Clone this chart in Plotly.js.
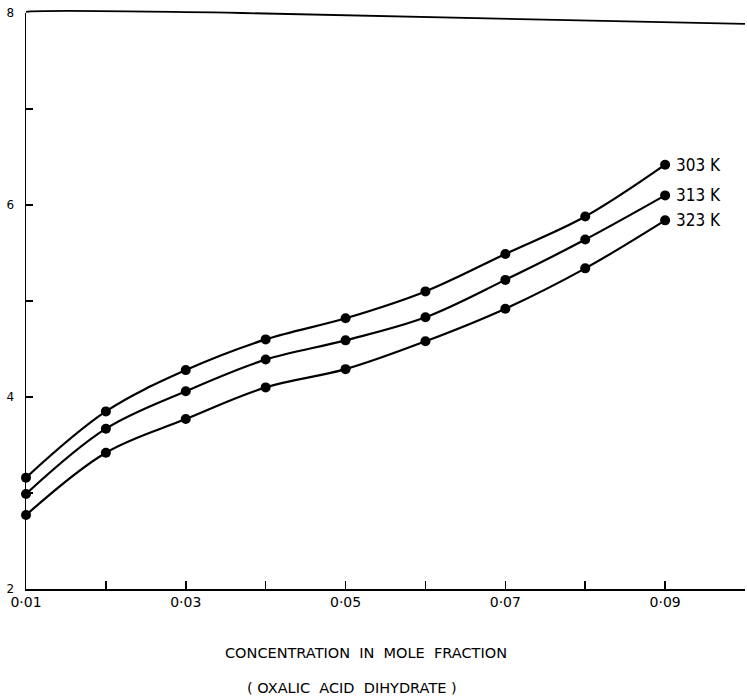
<!DOCTYPE html>
<html>
<head>
<meta charset="utf-8">
<script src="https://cdn.plot.ly/plotly-3.0.1.min.js"></script>
<style>html,body{margin:0;padding:0;background:#fff;}#chart{width:747px;height:699px;}</style>
</head>
<body>
<div id="chart"></div>
<script>
const concentration = [0.01, 0.02, 0.03, 0.04, 0.05, 0.06, 0.07, 0.08, 0.09];
const seriesNames = ["303 K", "313 K", "323 K"];
const values303 = [3.16, 3.85, 4.28, 4.60, 4.82, 5.10, 5.49, 5.88, 6.42];
const values313 = [2.99, 3.67, 4.06, 4.39, 4.59, 4.83, 5.22, 5.64, 6.10];
const values323 = [2.77, 3.42, 3.77, 4.10, 4.29, 4.58, 4.92, 5.34, 5.84];
const xTickVals = [0.01, 0.02, 0.03, 0.04, 0.05, 0.06, 0.07, 0.08, 0.09];
const xTickText = ["0·01", "", "0·03", "", "0·05", "", "0·07", "", "0·09"];
const yTickVals = [2, 3, 4, 5, 6, 7, 8];
const yTickText = ["2", "", "4", "", "6", "", "8"];
const xTitle1 = "CONCENTRATION  IN  MOLE  FRACTION";
const xTitle2 = "( OXALIC  ACID  DIHYDRATE )";

const allSeries = [values303, values313, values323];
const traces = allSeries.map((vals, i) => ({
  x: concentration, y: vals, type: "scatter", mode: "lines+markers",
  name: seriesNames[i],
  line: {color: "#000", width: 2.2, shape: "spline", smoothing: 1},
  marker: {color: "#000", size: 10},
  cliponaxis: false, showlegend: false
}));

const annotations = allSeries.map((vals, i) => ({
  x: concentration[concentration.length - 1], y: vals[vals.length - 1],
  xref: "x", yref: "y", text: seriesNames[i], showarrow: false,
  xanchor: "left", yanchor: "middle", xshift: 9,
  font: {family: "DejaVu Sans Condensed, DejaVu Sans", size: 17, color: "#000"}
}));
annotations.push({
  x: 0.5, y: 0, xref: "paper", yref: "paper", yshift: -64, text: xTitle1,
  showarrow: false, xanchor: "center", yanchor: "middle", xshift: -20,
  font: {family: "DejaVu Sans", size: 14.5, color: "#000"}
});
annotations.push({
  x: 0.5, y: 0, xref: "paper", yref: "paper", yshift: -99, text: xTitle2,
  showarrow: false, xanchor: "center", yanchor: "middle", xshift: -34,
  font: {family: "DejaVu Sans", size: 14.5, color: "#000"}
});

const layout = {
  width: 747, height: 699,
  margin: {l: 26, r: 2, t: 13, b: 110},
  paper_bgcolor: "#fff", plot_bgcolor: "#fff",
  font: {family: "DejaVu Sans", color: "#000"},
  showlegend: false,
  xaxis: {
    range: [0.01, 0.1], tickvals: xTickVals, ticktext: xTickText,
    ticks: "inside", ticklen: 8, tickwidth: 1.5, tickcolor: "#000",
    showline: true, linecolor: "#000", linewidth: 1.5,
    showgrid: false, zeroline: false,
    tickfont: {size: 14, family: "DejaVu Sans"}
  },
  yaxis: {
    range: [2, 8], tickvals: yTickVals, ticktext: yTickText,
    ticks: "inside", ticklen: 7, tickwidth: 1.5, tickcolor: "#000",
    showline: true, linecolor: "#000", linewidth: 1.5,
    showgrid: false, zeroline: false,
    ticklabelstandoff: 8,
    tickfont: {size: 12, family: "DejaVu Sans"}
  },
  shapes: [{
    type: "path", xref: "paper", yref: "paper",
    path: "M 0,1.002 Q 0.02,1.006 0.3,1.0 L 1,0.981",
    line: {color: "#000", width: 1.8}
  }],
  annotations: annotations
};

Plotly.newPlot("chart", traces, layout, {displayModeBar: false, staticPlot: true});
</script>
</body>
</html>
